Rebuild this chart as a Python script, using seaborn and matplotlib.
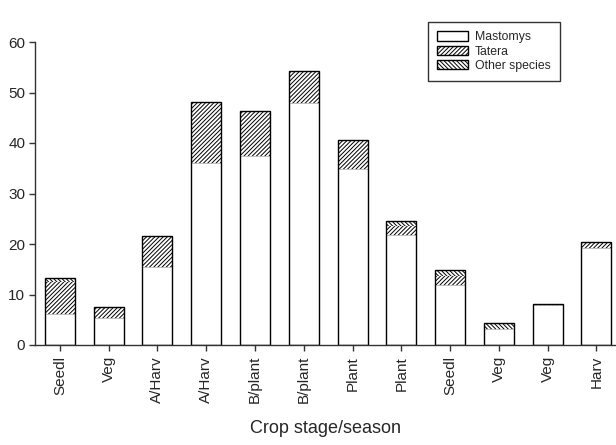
import numpy as np
import pandas as pd
import matplotlib
matplotlib.use("Agg")
import matplotlib.pyplot as plt
import seaborn as sns
from matplotlib.patches import Patch

categories = ["Seedl", "Veg", "A/Harv", "A/Harv", "B/plant", "B/plant",
              "Plant", "Plant", "Seedl", "Veg", "Veg", "Harv"]
mastomys = [6.2, 5.4, 15.4, 36.0, 37.5, 48.0, 34.8, 21.8, 11.9, 3.1, 7.9, 19.2]
tatera = [6.2, 1.9, 6.1, 12.2, 8.9, 6.2, 5.8, 1.8, 1.8, 0.0, 0.3, 1.2]
other = [0.8, 0.3, 0.1, 0.0, 0.0, 0.0, 0.0, 0.9, 1.2, 1.2, 0.0, 0.0]

sns.set_style("ticks")
plt.rcParams["font.family"] = ["Liberation Sans", "DejaVu Sans"]
plt.rcParams["hatch.linewidth"] = 0.7

pos = list(range(len(categories)))
m = np.array(mastomys)
t = np.array(tatera)
o = np.array(other)
df = pd.DataFrame({"pos": pos, "m": m, "mt": m + t, "total": m + t + o})

fig = plt.figure(figsize=(6.16, 4.45), dpi=100)
ax = fig.add_axes([35 / 616, 100 / 445, 1 - 35 / 616, 303 / 445])

w = 0.615
h_other = "\\" * 8
h_tatera = "/" * 8
sns.barplot(data=df, x="pos", y="total", ax=ax, width=w, color="white",
            edgecolor="black", linewidth=0, hatch=h_other, saturation=1)
sns.barplot(data=df, x="pos", y="mt", ax=ax, width=w, color="white",
            edgecolor="black", linewidth=0, hatch=h_tatera, saturation=1)
sns.barplot(data=df, x="pos", y="m", ax=ax, width=w, color="white",
            edgecolor="#bbbbbb", linewidth=0.6, saturation=1)
sns.barplot(data=df, x="pos", y="total", ax=ax, width=w, fill=False,
            edgecolor="black", linewidth=1.0)

ax.set_xlim(-0.51, 11.4)
ax.set_ylim(0, 60)
ax.set_yticks(range(0, 61, 10))
ax.set_xticks(pos)
ax.set_xticklabels(categories, rotation=90, fontsize=11)
ax.tick_params(axis="y", labelsize=11, length=4, width=1, color="#333333", pad=3)
ax.tick_params(axis="x", length=4, width=1, color="#333333", pad=4)
ax.set_xlabel("Crop stage/season", fontsize=13, labelpad=12)
ax.set_ylabel("")
for s in ["top", "right"]:
    ax.spines[s].set_visible(False)
for s in ["left", "bottom"]:
    ax.spines[s].set_color("#333333")
    ax.spines[s].set_linewidth(1)

handles = [
    Patch(facecolor="white", edgecolor="black", label="Mastomys"),
    Patch(facecolor="white", edgecolor="black", hatch=h_tatera, label="Tatera"),
    Patch(facecolor="white", edgecolor="black", hatch=h_other, label="Other species"),
]
leg = ax.legend(handles=handles, loc="upper left",
                bbox_to_anchor=((428 - 35) / 581, (445 - 22 - 100) / 303),
                frameon=True, fancybox=False, fontsize=8.8, handlelength=2.5,
                handleheight=0.8, borderpad=0.75, labelspacing=0.2,
                handletextpad=0.6, borderaxespad=0)
leg.get_frame().set_edgecolor("black")
leg.get_frame().set_linewidth(1)

fig.savefig("out.png", dpi=100)
